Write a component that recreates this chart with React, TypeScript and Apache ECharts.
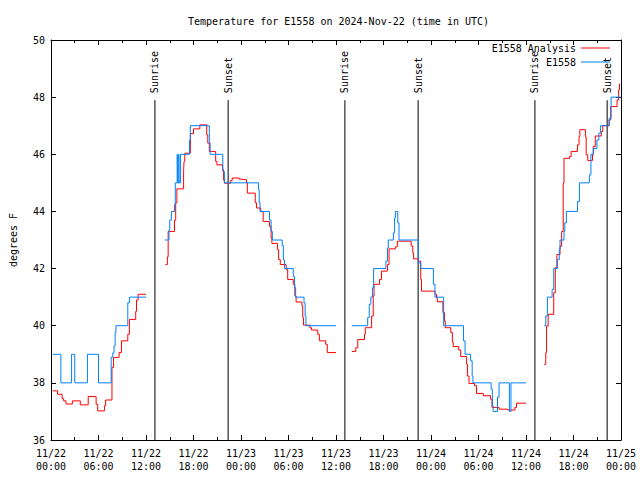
import React, { useEffect, useRef } from "react";
import * as echarts from "echarts";

// Hours since 2024-11-22 00:00 UTC; null marks a gap in the record
const redHours = [
  0.2, 0.83, 1.4, 1.6, 1.9, 2.7, 3.7, 4.7, 5.7, 5.9, 6.75, 6.9, 7.7, 7.9, 8.6, 8.9, 9.7, 9.9, 10.7, 10.8, 11.0, 11.05,
  12,
  14.45, 14.7, 14.8, 15.6, 15.75, 15.9, 16.75, 16.8, 16.9, 17.6, 18.0, 18.8, 19.67, 19.8, 20.0, 20.8, 20.96, 21.67, 21.8, 21.9,
  22.7, 22.9, 23.75, 24.0, 24.7, 24.8, 25.8, 25.96, 26.5, 26.8, 27.6, 27.8, 27.9, 28.6, 28.75, 28.96, 29.7, 29.9, 30.6, 30.8,
  30.96, 31.7, 31.8, 31.9, 32.7, 32.9, 33.7, 33.9, 34.7, 34.9, 35.0,
  36,
  38.0, 38.5, 38.75, 39.6, 39.7, 40.5, 40.7, 40.8, 41.5, 41.75, 42.5, 42.7, 43.5, 43.75, 45.5, 45.7, 45.8, 46.4, 46.7, 46.8,
  48.5, 48.7, 48.8, 49.5, 49.7, 49.8, 50.5, 50.7, 50.8, 51.5, 51.75, 52.5, 52.6, 52.8, 53.5, 53.75, 54.6, 55.5, 55.7, 56.6,
  57.7, 58.6, 58.8, 58.85,
  60,
  62.3, 62.5, 62.6, 62.8, 63.5, 63.7, 63.9, 64.3, 64.5, 64.7, 64.8, 65.5, 65.7, 66.5, 66.7, 66.8, 67.5, 67.6, 67.8, 68.4,
  68.5, 68.75, 69.5, 69.7, 70.5, 70.7, 71.5, 71.7, 71.8, 71.9,
];
const redTemps = [
  37.72, 37.6, 37.45, 37.37, 37.26, 37.37, 37.23, 37.52, 37.25, 37.02, 37.2, 37.4, 38.54, 38.89, 39.06, 39.47, 39.7, 40.22, 40.5, 40.9, 41.1, 41.1,
  null,
  42.14, 42.41, 43.3, 43.69, 44.3, 44.79, 45.4, 45.75, 46.04, 46.72, 46.89, 47.03, 46.68, 46.39, 46.1, 45.75, 45.63, 45.46, 45.1, 44.99,
  45.09, 45.17, 45.13, 45.11, 45.0, 44.64, 44.3, 44.12, 44.0, 43.65, 43.48, 43.07, 42.88, 42.67, 42.32, 42.14, 41.97, 41.62, 41.45, 41.04,
  40.83, 40.69, 40.28, 40.02, 39.93, 39.85, 39.7, 39.47, 39.35, 39.06, 39.06,
  null,
  39.1, 39.23, 39.52, 39.7, 39.93, 40.34, 41.04, 41.45, 41.62, 41.91, 42.14, 42.69, 42.76, 42.96, 42.79, 42.55, 42.34, 42.26, 41.62, 41.21,
  41.1, 40.98, 40.84, 40.46, 40.16, 39.93, 39.76, 39.43, 39.27, 39.15, 38.92, 38.65, 38.24, 37.98, 37.9, 37.63, 37.55, 37.43, 37.14, 37.08,
  37.05, 37.14, 37.29, 37.29,
  null,
  38.65, 39.06, 39.99, 40.4, 41.15, 42.03, 42.49, 42.78, 43.3, 44.99, 45.86, 45.92, 46.1, 46.33, 46.62, 46.86, 46.62, 45.98, 45.78, 45.98,
  46.27, 46.64, 46.8, 47.0, 47.2, 47.67, 47.9, 48.25, 48.46, 48.46,
];

const blueHours = [
  0.2, 1.25, 2.6, 3.0, 4.6, 6.0, 7.6, 7.8, 7.96, 8.1, 8.2, 9.7, 9.9, 10.9,
  12,
  14.4, 14.9, 15.0, 15.2, 15.6, 15.7, 15.95, 15.97, 16.15, 16.17, 16.37, 17.5, 17.6, 20.0, 20.1, 21.7, 21.9,
  26.2, 26.3, 26.4, 27.6, 27.8, 27.96, 29.2, 29.35, 29.5, 30.6, 30.75, 30.9, 31.96, 32.1, 32.2, 35.0,
  36,
  38.0, 40.0, 40.2, 40.4, 40.6, 40.75, 42.3, 42.5, 42.6, 43.25, 43.4, 43.5, 43.8, 43.96, 46.4, 46.7, 48.3, 48.5,
  49.6, 52.1, 52.3, 53.0, 53.2, 53.3, 55.6, 55.75, 55.85, 56.4, 56.6, 57.9, 58.1, 58.8,
  60,
  62.3, 62.5, 62.7, 63.3, 63.5, 63.96, 64.2, 64.3, 64.8, 64.9, 65.1, 66.5, 66.75, 68.0, 68.2, 68.5, 68.96, 69.2, 69.4,
  70.5, 70.75, 71.9,
];
const blueTemps = [
  39, 38, 39, 38, 39, 38, 38.9, 39.05, 39.3, 39.76, 40, 40.8, 41, 41,
  null,
  43, 43.36, 43.7, 44, 44.24, 45, 46, 45, 46, 45, 46, 46.5, 47, 46.4, 46, 45.4, 45,
  44.76, 44.3, 44, 43.7, 43.3, 43, 42.8, 42.3, 42, 41.73, 41.33, 41, 40.8, 40.34, 40, 40,
  null,
  40, 40.28, 40.75, 41, 41.33, 42, 42.26, 42.72, 43, 43.25, 43.77, 44, 43.6, 43, 42.2, 42, 41.45, 41,
  40, 39.47, 39, 38.77, 38.24, 38, 37.78, 37.2, 37, 37.5, 38, 37, 38, 38,
  null,
  40, 40.34, 41, 41.27, 42, 42.32, 42.67, 43, 43.3, 43.6, 44, 44.35, 45, 45.28, 46, 46.2, 46.5, 46.74, 47,
  47.26, 48, 48,
];

const sunHours = [13.125, 22.375, 37.125, 46.375, 61.125, 70.25];
const sunLabels = ["Sunrise", "Sunset", "Sunrise", "Sunset", "Sunrise", "Sunset"];

const FONT = '"DejaVu Sans Mono", "Liberation Mono", monospace';

function xLabel(h: number) {
  const day = 22 + Math.floor(h / 24);
  const hh = String(h % 24).padStart(2, "0");
  return `11/${day}\n${hh}:00`;
}

function toData(hours: number[], temps: (number | null)[]) {
  return hours.map((h, i) => [h, temps[i] === null ? "-" : temps[i]]);
}

export default function App() {
  const ref = useRef<HTMLDivElement>(null);
  useEffect(() => {
    if (!ref.current) return;
    const chart = echarts.init(ref.current, undefined, { renderer: "svg" });
    const axisLine = { show: true, onZero: false, lineStyle: { color: "#000", width: 1 } };
    const tick = { show: true, inside: true, length: 5, lineStyle: { color: "#000" } };
    const minor = { show: true, splitNumber: 2, length: 3, lineStyle: { color: "#000" } };
    chart.setOption({
      animation: false,
      backgroundColor: "#fff",
      title: {
        text: "Temperature for E1558 on 2024-Nov-22 (time in UTC)",
        left: 183,
        top: 11,
        textStyle: { fontFamily: FONT, fontSize: 10, fontWeight: "normal", color: "#000" },
      },
      legend: {
        data: ["E1558 Analysis", "E1558"],
        orient: "vertical",
        right: 30,
        top: 43,
        align: "right",
        icon: "rect",
        itemWidth: 29,
        itemHeight: 1,
        itemGap: 4,
        padding: 0,
        textStyle: { fontFamily: FONT, fontSize: 10, color: "#000" },
      },
      grid: { left: 45, right: 19, top: 40, bottom: 40, containLabel: false },
      xAxis: [
        {
          type: "value",
          min: 0,
          max: 72,
          interval: 6,
          position: "bottom",
          axisLine,
          axisTick: tick,
          minorTick: minor,
          splitLine: { show: false },
          axisLabel: {
            formatter: (v: number) => xLabel(v),
            fontFamily: FONT,
            fontSize: 10,
            color: "#000",
            lineHeight: 13,
            margin: 7,
          },
        },
        {
          type: "value",
          min: 0,
          max: 72,
          interval: 6,
          position: "top",
          axisLine,
          axisTick: tick,
          minorTick: minor,
          splitLine: { show: false },
          axisLabel: { show: false },
        },
      ],
      yAxis: [
        {
          type: "value",
          min: 36,
          max: 50,
          interval: 2,
          position: "left",
          name: "degrees F",
          nameLocation: "middle",
          nameGap: 33,
          nameTextStyle: { fontFamily: FONT, fontSize: 10, color: "#000" },
          axisLine,
          axisTick: tick,
          splitLine: { show: false },
          axisLabel: { fontFamily: FONT, fontSize: 10, color: "#000", margin: 6 },
        },
        {
          type: "value",
          min: 36,
          max: 50,
          interval: 2,
          position: "right",
          axisLine,
          axisTick: tick,
          splitLine: { show: false },
          axisLabel: { show: false },
        },
      ],
      series: [
        {
          name: "Sun",
          type: "custom",
          xAxisIndex: 0,
          yAxisIndex: 0,
          data: sunHours.map((h) => [h]),
          encode: { x: 0 },
          silent: true,
          renderItem: (params: any, api: any) => {
            const h = api.value(0);
            const p0 = api.coord([h, 36]);
            const p1 = api.coord([h, 48]);
            return {
              type: "group",
              children: [
                {
                  type: "line",
                  shape: { x1: p0[0], y1: p0[1], x2: p1[0], y2: p1[1] + 3 },
                  style: { stroke: "#000", lineWidth: 1 },
                },
                {
                  type: "text",
                  x: p1[0],
                  y: p1[1] - 4,
                  rotation: Math.PI / 2,
                  style: {
                    text: sunLabels[params.dataIndex],
                    fill: "#000",
                    font: `10px ${FONT}`,
                    align: "left",
                    verticalAlign: "middle",
                  },
                },
              ],
            };
          },
        },
        {
          name: "E1558 Analysis",
          type: "line",
          step: "end",
          symbol: "none",
          showSymbol: false,
          connectNulls: false,
          color: "#ff0000",
          lineStyle: { color: "#ff0000", width: 1 },
          data: toData(redHours, redTemps),
        },
        {
          name: "E1558",
          type: "line",
          step: "end",
          symbol: "none",
          showSymbol: false,
          connectNulls: false,
          color: "#0080ff",
          lineStyle: { color: "#0080ff", width: 1 },
          data: toData(blueHours, blueTemps),
        },
      ],
    });
    return () => chart.dispose();
  }, []);
  return (
    <div
      ref={ref}
      style={{ position: "fixed", left: 0, top: 0, width: 640, height: 480, background: "#fff" }}
    />
  );
}
